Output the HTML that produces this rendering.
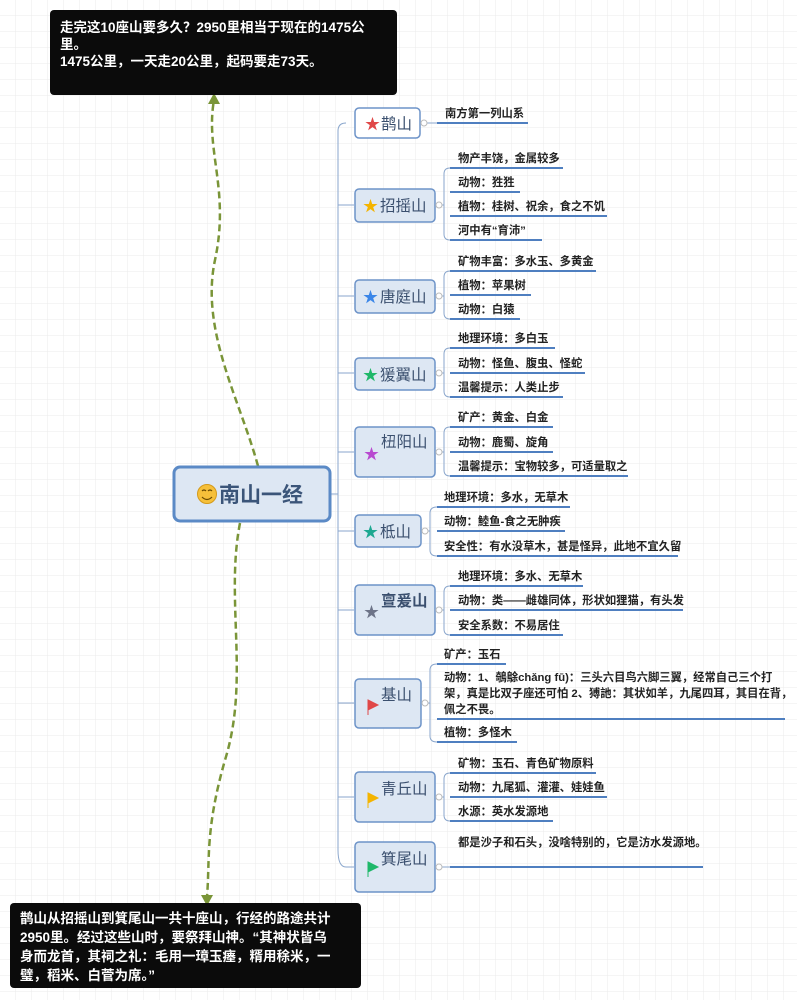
<!DOCTYPE html>
<html><head><meta charset="utf-8"><style>
html,body{margin:0;padding:0;background:#fff;}
svg{display:block;}
text{font-family:"Liberation Sans","Noto Sans CJK SC",sans-serif;}
.it{font-size:11.3px;font-weight:bold;fill:#222;}
.nd{font-size:15.5px;fill:#3a4f6e;}
.ul{stroke:#4f7fc0;stroke-width:2;}
.br{stroke:#8aa6cc;stroke-width:1;fill:none;}
.box{fill:#dde7f3;stroke:#6d93c8;stroke-width:1.5;}
.wt{font-size:13.5px;font-weight:bold;fill:#fff;}
</style></head><body>
<svg width="797" height="1000" viewBox="0 0 797 1000" xmlns="http://www.w3.org/2000/svg">
<defs>
<pattern id="g" width="16" height="16" patternUnits="userSpaceOnUse"><path d="M16 0V16H0" fill="none" stroke="#ebebeb" stroke-width="1"/></pattern>
</defs>
<rect width="797" height="1000" fill="url(#g)"/>

<path d="M258 466 C 240 400, 200 330, 215 260 C 230 190, 205 150, 214 100" fill="none" stroke="#7a9538" stroke-width="2.5" stroke-dasharray="7,4"/>
<polygon points="214,93 208,104 220,104" fill="#7a9538"/>
<path d="M240 523 C 225 600, 250 680, 225 760 C 205 830, 210 860, 207 897" fill="none" stroke="#7a9538" stroke-width="2.5" stroke-dasharray="7,4"/>
<polygon points="207,906 201,895 213,895" fill="#7a9538"/>

<rect x="50" y="10" width="347" height="85" rx="4" fill="#0b0b0b"/>
<text class="wt" x="60" y="32">走完这10座山要多久？2950里相当于现在的1475公</text>
<text class="wt" x="60" y="49">里。</text>
<text class="wt" x="60" y="66">1475公里，一天走20公里，起码要走73天。</text>
<rect x="10" y="903" width="351" height="85" rx="4" fill="#0b0b0b"/>
<text class="wt" x="20" y="923">鹊山从招摇山到箕尾山一共十座山，行经的路途共计</text>
<text class="wt" x="20" y="942">2950里。经过这些山时，要祭拜山神。“其神状皆乌</text>
<text class="wt" x="20" y="961">身而龙首，其祠之礼：毛用一璋玉瘗，糈用稌米，一</text>
<text class="wt" x="20" y="980">璧，稻米、白菅为席。”</text>

<g class="br">
<path d="M330 494 H338"/>
<path d="M346 123 Q338 123 338 131 V850 Q338 867 346 867"/>
<path d="M338 205 H354 M338 296 H354 M338 373 H354 M338 452 H354 M338 531 H354 M338 610 H354 M338 703 H354 M338 797 H354 M346 867 H354"/>
</g>

<rect x="174" y="467" width="156" height="54" rx="6" fill="#dde7f3" stroke="#5b8ac6" stroke-width="3"/>
<circle cx="207" cy="494" r="9.5" fill="#f6c03a" stroke="#d49a1a"/>
<path d="M202 491 Q204 489 206 491 M208 491 Q210 489 212 491" stroke="#6a4a00" fill="none" stroke-width="1.2"/>
<path d="M202 497 Q207 502 212 497" stroke="#6a4a00" fill="none" stroke-width="1.2"/>
<text x="219" y="502" font-size="21" font-weight="bold" fill="#3b5579">南山一经</text>

<rect x="355" y="108" width="65" height="30" rx="4" fill="#fff" stroke="#6d93c8" stroke-width="1.5"/>
<text x="365" y="129" font-size="15" fill="#e04848">★</text><text class="nd" x="381" y="129">鹊山</text>

<rect class="box" x="355" y="189" width="80" height="33" rx="4"/>
<text x="363" y="211" font-size="15" fill="#f4b400">★</text><text class="nd" x="380" y="211">招摇山</text>

<rect class="box" x="355" y="280" width="80" height="33" rx="4"/>
<text x="363" y="302" font-size="15" fill="#3a86e8">★</text><text class="nd" x="380" y="302">唐庭山</text>

<rect class="box" x="355" y="358" width="80" height="32" rx="4"/>
<text x="363" y="380" font-size="15" fill="#1fb86a">★</text><text class="nd" x="380" y="380">猨翼山</text>

<rect class="box" x="355" y="427" width="80" height="50" rx="4"/>
<text x="364" y="459" font-size="15" fill="#b84ad0">★</text><text class="nd" x="381" y="447">杻阳山</text>

<rect class="box" x="355" y="515" width="66" height="32" rx="4"/>
<text x="363" y="537" font-size="15" fill="#1da891">★</text><text class="nd" x="380" y="537">柢山</text>

<rect class="box" x="355" y="585" width="80" height="50" rx="4"/>
<text x="364" y="617" font-size="15" fill="#6d7488">★</text><text class="nd" x="381" y="606" font-weight="bold">亶爰山</text>

<rect class="box" x="355" y="679" width="66" height="49" rx="4"/>
<path d="M368 700 V715 M368 700 L378 705 L368 710Z" stroke="#e04848" fill="#e04848"/><text class="nd" x="381" y="700">基山</text>

<rect class="box" x="355" y="772" width="80" height="50" rx="4"/>
<path d="M368 793 V808 M368 793 L378 798 L368 803Z" stroke="#f4b400" fill="#f4b400"/><text class="nd" x="381" y="794">青丘山</text>

<rect class="box" x="355" y="842" width="80" height="50" rx="4"/>
<path d="M368 862 V877 M368 862 L378 867 L368 872Z" stroke="#1fb86a" fill="#1fb86a"/><text class="nd" x="381" y="864">箕尾山</text>

<g class="br">
<path d="M420 123 H437"/>
<path d="M435 205 H444 M450 168 Q444 168 444 174 V234 Q444 240 450 240"/>
<path d="M435 296 H444 M450 271 Q444 271 444 277 V313 Q444 319 450 319"/>
<path d="M435 373 H444 M450 348 Q444 348 444 354 V391 Q444 397 450 397"/>
<path d="M435 452 H444 M450 427 Q444 427 444 433 V470 Q444 476 450 476"/>
<path d="M421 531 H430 M437 507 Q430 507 430 513 V550 Q430 556 437 556"/>
<path d="M435 610 H444 M450 586 Q444 586 444 592 V629 Q444 635 450 635"/>
<path d="M421 703 H430 M437 664 Q430 664 430 670 V736 Q430 742 437 742"/>
<path d="M435 797 H444 M450 773 Q444 773 444 779 V815 Q444 821 450 821"/>
<path d="M435 867 H450"/>
</g>
<g fill="#fff" stroke="#bbb" stroke-width="1">
<circle cx="424" cy="123" r="3"/><circle cx="439" cy="205" r="3"/><circle cx="439" cy="296" r="3"/><circle cx="439" cy="373" r="3"/><circle cx="439" cy="452" r="3"/><circle cx="425" cy="531" r="3"/><circle cx="439" cy="610" r="3"/><circle cx="425" cy="703" r="3"/><circle cx="439" cy="797" r="3"/><circle cx="439" cy="867" r="3"/>
</g>

<g class="ul">
<path d="M437 123H528"/>
<path d="M450 168H563 M450 192H520 M450 216H607 M450 240H542"/>
<path d="M450 271H596 M450 295H531 M450 319H520"/>
<path d="M450 348H555 M450 373H585 M450 397H563"/>
<path d="M450 427H553 M450 452H553 M450 476H628"/>
<path d="M437 507H570 M437 531H565 M437 556H678"/>
<path d="M450 586H583 M450 610H683 M450 635H563"/>
<path d="M437 664H506 M437 719H785 M437 742H517"/>
<path d="M450 773H596 M450 797H607 M450 821H553"/>
<path d="M450 867H703"/>
</g>
<text class="it" x="445" y="117">南方第一列山系</text>
<text class="it" x="458" y="162">物产丰饶，金属较多</text>
<text class="it" x="458" y="186">动物：狌狌</text>
<text class="it" x="458" y="210">植物：桂树、祝余，食之不饥</text>
<text class="it" x="458" y="234">河中有“育沛”</text>
<text class="it" x="458" y="265">矿物丰富：多水玉、多黄金</text>
<text class="it" x="458" y="289">植物：苹果树</text>
<text class="it" x="458" y="313">动物：白猿</text>
<text class="it" x="458" y="342">地理环境：多白玉</text>
<text class="it" x="458" y="367">动物：怪鱼、腹虫、怪蛇</text>
<text class="it" x="458" y="391">温馨提示：人类止步</text>
<text class="it" x="458" y="421">矿产：黄金、白金</text>
<text class="it" x="458" y="446">动物：鹿蜀、旋角</text>
<text class="it" x="458" y="470">温馨提示：宝物较多，可适量取之</text>
<text class="it" x="444" y="501">地理环境：多水，无草木</text>
<text class="it" x="444" y="525">动物：鯥鱼-食之无肿疾</text>
<text class="it" x="444" y="550">安全性：有水没草木，甚是怪异，此地不宜久留</text>
<text class="it" x="458" y="580">地理环境：多水、无草木</text>
<text class="it" x="458" y="604">动物：类——雌雄同体，形状如狸猫，有头发</text>
<text class="it" x="458" y="629">安全系数：不易居住</text>
<text class="it" x="444" y="658">矿产：玉石</text>
<text class="it" x="444" y="681">动物：1、鵸鵌chǎng fū)：三头六目鸟六脚三翼，经常自己三个打</text>
<text class="it" x="444" y="697">架，真是比双子座还可怕 2、猼訑：其状如羊，九尾四耳，其目在背，</text>
<text class="it" x="444" y="713">佩之不畏。</text>
<text class="it" x="444" y="736">植物：多怪木</text>
<text class="it" x="458" y="767">矿物：玉石、青色矿物原料</text>
<text class="it" x="458" y="791">动物：九尾狐、灌灌、娃娃鱼</text>
<text class="it" x="458" y="815">水源：英水发源地</text>
<text class="it" x="458" y="846">都是沙子和石头，没啥特别的，它是汸水发源地。</text>
</svg>
</body></html>
